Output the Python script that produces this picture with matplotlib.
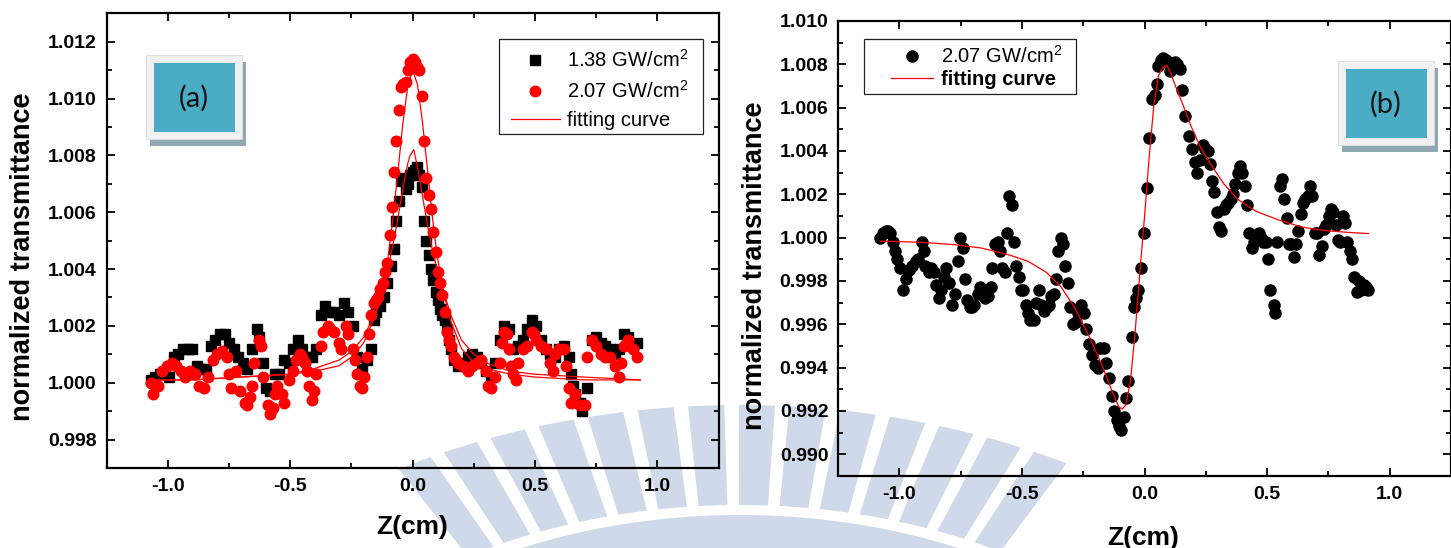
"""Z-scan transmittance, two panels: (a) closed peak for two intensities, (b) peak-valley trace."""
import matplotlib
matplotlib.use('Agg')
import matplotlib.pyplot as plt
from matplotlib.patches import Rectangle, Wedge
from matplotlib.ticker import MultipleLocator, FormatStrFormatter

plt.rcParams['font.family'] = ['Liberation Sans', 'DejaVu Sans']
plt.rcParams['mathtext.fontset'] = 'custom'
plt.rcParams['mathtext.rm'] = 'Liberation Sans'
plt.rcParams['mathtext.default'] = 'regular'

# ---- panel (a): 1.38 GW/cm2 (squares) ----
za_sq = [-1.068, -1.050, -1.031, -1.012, -0.993, -0.975, -0.956, -0.937, -0.918, -0.900,
         -0.881, -0.862, -0.843, -0.825, -0.806, -0.787, -0.768, -0.750, -0.731, -0.712,
         -0.694, -0.675, -0.656, -0.637, -0.628, -0.609, -0.600, -0.581, -0.562, -0.544,
         -0.525, -0.506, -0.487, -0.469, -0.450, -0.431, -0.412, -0.394, -0.375, -0.356,
         -0.337, -0.319, -0.300, -0.281, -0.262, -0.244, -0.225, -0.206, -0.187, -0.169,
         -0.159, -0.150, -0.131, -0.118, -0.103, -0.090, -0.076, -0.069, -0.056, -0.049,
         -0.037, -0.028, -0.019, -0.009, 0.000, 0.009, 0.019, 0.028, 0.037, 0.047,
         0.056, 0.066, 0.075, 0.084, 0.094, 0.103, 0.112, 0.122, 0.131, 0.141,
         0.150, 0.159, 0.169, 0.187, 0.206, 0.225, 0.244, 0.262, 0.281, 0.300,
         0.319, 0.337, 0.356, 0.375, 0.394, 0.412, 0.431, 0.450, 0.469, 0.487,
         0.506, 0.525, 0.544, 0.562, 0.581, 0.600, 0.619, 0.637, 0.647, 0.656,
         0.665, 0.684, 0.694, 0.712, 0.731, 0.750, 0.768, 0.787, 0.806, 0.825,
         0.843, 0.862, 0.881, 0.900, 0.918]
ta_sq = [1.0001, 1.0002, 1.0003, 1.0003, 1.0002, 1.0009, 1.0010, 1.0012, 1.0012, 1.0012,
         1.0006, 1.0005, 1.0005, 1.0013, 1.0015, 1.0017, 1.0017, 1.0014, 1.0012, 1.0009,
         1.0007, 1.0005, 1.0012, 1.0019, 1.0016, 1.0007, 0.9998, 0.9997, 1.0003, 1.0003,
         1.0008, 1.0007, 1.0012, 1.0015, 1.0012, 1.0009, 1.0009, 1.0012, 1.0024, 1.0027,
         1.0025, 1.0025, 1.0024, 1.0028, 1.0025, 1.0020, 1.0009, 1.0005, 1.0008, 1.0012,
         1.0022, 1.0025, 1.0027, 1.0030, 1.0035, 1.0041, 1.0047, 1.0057, 1.0064, 1.0071,
         1.0072, 1.0068, 1.0070, 1.0073, 1.0074, 1.0075, 1.0076, 1.0073, 1.0069, 1.0057,
         1.0050, 1.0045, 1.0040, 1.0036, 1.0032, 1.0029, 1.0026, 1.0024, 1.0022, 1.0019,
         1.0015, 1.0012, 1.0008, 1.0006, 1.0007, 1.0009, 1.0010, 1.0009, 1.0007, 1.0004,
         1.0002, 1.0007, 1.0015, 1.0020, 1.0019, 1.0012, 1.0013, 1.0015, 1.0019, 1.0022,
         1.0020, 1.0015, 1.0012, 1.0010, 1.0009, 1.0012, 1.0013, 1.0009, 1.0003, 0.9999,
         0.9996, 0.9993, 0.9990, 0.9998, 1.0015, 1.0016, 1.0014, 1.0013, 1.0012, 1.0010,
         1.0012, 1.0017, 1.0016, 1.0013, 1.0014]

# ---- panel (a): 2.07 GW/cm2 (circles) ----
za_ci = [-1.068, -1.059, -1.040, -1.022, -1.003, -0.984, -0.965, -0.947, -0.928, -0.909,
         -0.890, -0.872, -0.853, -0.834, -0.815, -0.797, -0.778, -0.759, -0.750, -0.740,
         -0.722, -0.703, -0.684, -0.675, -0.665, -0.656, -0.647, -0.628, -0.619, -0.609,
         -0.590, -0.581, -0.572, -0.562, -0.553, -0.534, -0.525, -0.506, -0.487, -0.478,
         -0.459, -0.450, -0.440, -0.431, -0.422, -0.412, -0.403, -0.394, -0.375, -0.366,
         -0.347, -0.337, -0.319, -0.300, -0.291, -0.272, -0.262, -0.244, -0.234, -0.225,
         -0.216, -0.206, -0.197, -0.187, -0.178, -0.169, -0.159, -0.150, -0.141, -0.131,
         -0.122, -0.112, -0.103, -0.094, -0.084, -0.075, -0.066, -0.056, -0.047, -0.037,
         -0.028, -0.019, -0.009, 0.000, 0.009, 0.019, 0.028, 0.037, 0.047, 0.056,
         0.066, 0.075, 0.084, 0.094, 0.103, 0.112, 0.122, 0.131, 0.141, 0.150,
         0.159, 0.169, 0.178, 0.187, 0.206, 0.225, 0.244, 0.262, 0.281, 0.300,
         0.309, 0.319, 0.337, 0.356, 0.366, 0.375, 0.384, 0.394, 0.403, 0.412,
         0.422, 0.431, 0.450, 0.469, 0.487, 0.497, 0.506, 0.525, 0.544, 0.562,
         0.572, 0.581, 0.600, 0.619, 0.628, 0.637, 0.647, 0.665, 0.684, 0.703,
         0.712, 0.731, 0.750, 0.768, 0.787, 0.806, 0.825, 0.843, 0.853, 0.862,
         0.881, 0.900, 0.918]
ta_ci = [1.0000, 0.9996, 0.9999, 1.0004, 1.0006, 1.0007, 1.0006, 1.0004, 1.0002, 1.0004,
         1.0003, 0.9999, 0.9998, 1.0002, 1.0008, 1.0010, 1.0011, 1.0009, 1.0003, 0.9998,
         1.0004, 0.9997, 0.9993, 0.9992, 0.9995, 0.9999, 1.0007, 1.0015, 1.0013, 1.0002,
         0.9992, 0.9989, 0.9991, 0.9996, 0.9999, 0.9996, 0.9993, 1.0001, 1.0004, 1.0008,
         1.0010, 1.0009, 1.0007, 1.0004, 0.9999, 0.9994, 0.9997, 1.0003, 1.0013, 1.0018,
         1.0020, 1.0019, 1.0018, 1.0014, 1.0012, 1.0020, 1.0017, 1.0012, 1.0008, 1.0003,
         0.9999, 0.9998, 1.0002, 1.0009, 1.0017, 1.0024, 1.0028, 1.0029, 1.0030, 1.0033,
         1.0035, 1.0039, 1.0042, 1.0052, 1.0062, 1.0074, 1.0085, 1.0096, 1.0104, 1.0105,
         1.0106, 1.0110, 1.0113, 1.0114, 1.0113, 1.0111, 1.0110, 1.0101, 1.0085, 1.0072,
         1.0066, 1.0061, 1.0053, 1.0046, 1.0039, 1.0035, 1.0031, 1.0025, 1.0018, 1.0015,
         1.0013, 1.0009, 1.0008, 1.0007, 1.0006, 1.0004, 1.0006, 1.0007, 1.0008, 1.0004,
         0.9999, 0.9998, 1.0002, 1.0007, 1.0014, 1.0018, 1.0017, 1.0012, 1.0006, 1.0003,
         1.0001, 1.0007, 1.0012, 1.0013, 1.0018, 1.0017, 1.0015, 1.0013, 1.0012, 1.0007,
         1.0004, 1.0010, 1.0012, 1.0012, 1.0006, 0.9998, 0.9993, 0.9996, 0.9992, 0.9992,
         1.0009, 1.0015, 1.0013, 1.0010, 1.0009, 1.0009, 1.0006, 1.0002, 1.0007, 1.0013,
         1.0015, 1.0012, 1.0009]

# ---- panel (a): fitting curves ----
fit_a_hi_z = [-1.07, -0.9, -0.7, -0.5, -0.4, -0.3, -0.25, -0.2, -0.15, -0.12, -0.1, -0.08,
              -0.06, -0.04, -0.02, 0.0, 0.02, 0.04, 0.06, 0.08, 0.1, 0.12, 0.15, 0.2, 0.25,
              0.3, 0.4, 0.5, 0.7, 0.93]
fit_a_hi_t = [1.0001, 1.0001, 1.0002, 1.0003, 1.0004, 1.0006, 1.0009, 1.0014, 1.0024, 1.0034,
              1.0044, 1.0058, 1.0074, 1.0091, 1.0104, 1.0110, 1.0105, 1.0092, 1.0076, 1.0059,
              1.0045, 1.0035, 1.0023, 1.0012, 1.0007, 1.0005, 1.0003, 1.0002, 1.0001, 1.0001]
fit_a_lo_z = [-1.07, -0.9, -0.7, -0.5, -0.4, -0.3, -0.25, -0.2, -0.15, -0.1, -0.07, -0.04,
              -0.02, -0.01, 0.005, 0.02, 0.04, 0.06, 0.08, 0.1, 0.13, 0.16, 0.2, 0.25, 0.3,
              0.4, 0.5, 0.7, 0.93]
fit_a_lo_t = [1.0001, 1.0001, 1.0002, 1.0003, 1.0005, 1.0008, 1.0011, 1.0016, 1.0025, 1.0040,
              1.0053, 1.0068, 1.0077, 1.0080, 1.0082, 1.0076, 1.0066, 1.0056, 1.0047, 1.0040,
              1.0031, 1.0023, 1.0015, 1.0010, 1.0007, 1.0004, 1.0003, 1.0002, 1.0001]

# ---- panel (b): 2.07 GW/cm2 ----
zb = [-1.078, -1.065, -1.055, -1.046, -1.036, -1.027, -1.017, -1.008, -0.998, -0.985,
      -0.973, -0.960, -0.947, -0.932, -0.922, -0.909, -0.901, -0.894, -0.880, -0.871,
      -0.859, -0.852, -0.840, -0.829, -0.817, -0.808, -0.798, -0.785, -0.774, -0.760,
      -0.751, -0.741, -0.732, -0.722, -0.713, -0.703, -0.694, -0.681, -0.669, -0.662,
      -0.650, -0.637, -0.627, -0.622, -0.608, -0.599, -0.589, -0.580, -0.570, -0.561,
      -0.551, -0.540, -0.532, -0.523, -0.513, -0.504, -0.494, -0.485, -0.475, -0.466,
      -0.452, -0.441, -0.432, -0.422, -0.411, -0.399, -0.390, -0.380, -0.371, -0.361,
      -0.352, -0.342, -0.333, -0.323, -0.314, -0.304, -0.293, -0.281, -0.270, -0.257,
      -0.247, -0.238, -0.228, -0.215, -0.200, -0.190, -0.181, -0.167, -0.156, -0.143,
      -0.133, -0.124, -0.114, -0.105, -0.095, -0.084, -0.076, -0.067, -0.053, -0.044,
      -0.034, -0.025, -0.015, -0.004, 0.010, 0.019, 0.030, 0.042, 0.049, 0.057,
      0.067, 0.076, 0.086, 0.095, 0.105, 0.114, 0.124, 0.133, 0.143, 0.152,
      0.165, 0.181, 0.194, 0.205, 0.213, 0.228, 0.238, 0.247, 0.257, 0.266,
      0.276, 0.285, 0.295, 0.304, 0.314, 0.323, 0.333, 0.342, 0.352, 0.361,
      0.371, 0.380, 0.390, 0.399, 0.409, 0.418, 0.428, 0.437, 0.447, 0.456,
      0.466, 0.475, 0.485, 0.494, 0.504, 0.513, 0.527, 0.532, 0.542, 0.551,
      0.561, 0.570, 0.580, 0.589, 0.599, 0.608, 0.618, 0.627, 0.637, 0.646,
      0.656, 0.665, 0.675, 0.684, 0.694, 0.703, 0.713, 0.722, 0.732, 0.741,
      0.751, 0.760, 0.770, 0.779, 0.789, 0.798, 0.808, 0.817, 0.827, 0.837,
      0.846, 0.856, 0.865, 0.875, 0.884, 0.894, 0.903, 0.913]
tb = [1.0000, 1.0002, 1.0003, 1.0003, 1.0002, 0.9998, 0.9994, 0.9990, 0.9986, 0.9976,
      0.9981, 0.9985, 0.9987, 0.9989, 0.9990, 0.9998, 0.9994, 0.9987, 0.9984, 0.9986,
      0.9984, 0.9978, 0.9972, 0.9976, 0.9982, 0.9986, 0.9979, 0.9969, 0.9974, 0.9989,
      1.0000, 0.9995, 0.9981, 0.9971, 0.9968, 0.9968, 0.9969, 0.9974, 0.9977, 0.9976,
      0.9972, 0.9973, 0.9977, 0.9986, 0.9997, 0.9998, 0.9994, 0.9986, 0.9984, 1.0002,
      1.0019, 1.0015, 0.9998, 0.9987, 0.9982, 0.9976, 0.9976, 0.9969, 0.9965, 0.9962,
      0.9962, 0.9970, 0.9976, 0.9969, 0.9966, 0.9968, 0.9969, 0.9973, 0.9974, 0.9981,
      0.9994, 1.0000, 0.9997, 0.9987, 0.9979, 0.9968, 0.9960, 0.9961, 0.9965, 0.9969,
      0.9965, 0.9958, 0.9951, 0.9946, 0.9941, 0.9940, 0.9949, 0.9949, 0.9942, 0.9935,
      0.9927, 0.9920, 0.9916, 0.9913, 0.9911, 0.9917, 0.9926, 0.9934, 0.9954, 0.9968,
      0.9972, 0.9976, 0.9986, 1.0002, 1.0023, 1.0046, 1.0064, 1.0066, 1.0071, 1.0079,
      1.0082, 1.0083, 1.0082, 1.0081, 1.0077, 1.0079, 1.0081, 1.0080, 1.0078, 1.0068,
      1.0056, 1.0047, 1.0041, 1.0035, 1.0030, 1.0036, 1.0043, 1.0041, 1.0040, 1.0034,
      1.0026, 1.0021, 1.0012, 1.0005, 1.0003, 1.0013, 1.0015, 1.0016, 1.0018, 1.0020,
      1.0025, 1.0030, 1.0033, 1.0030, 1.0024, 1.0015, 1.0002, 0.9995, 0.9998, 1.0000,
      1.0002, 1.0000, 0.9998, 0.9998, 0.9990, 0.9976, 0.9969, 0.9965, 0.9998, 1.0024,
      1.0027, 1.0018, 1.0009, 0.9997, 0.9997, 0.9991, 0.9997, 1.0003, 1.0011, 1.0016,
      1.0018, 1.0019, 1.0024, 1.0019, 1.0002, 1.0002, 0.9992, 0.9996, 1.0004, 1.0006,
      1.0010, 1.0013, 1.0012, 1.0006, 0.9999, 0.9998, 1.0010, 1.0007, 0.9998, 0.9994,
      0.9990, 0.9982, 0.9975, 0.9980, 0.9976, 0.9978, 0.9977, 0.9976]

fit_b_z = [-1.078, -0.913, -0.779, -0.665, -0.551, -0.475, -0.399, -0.342, -0.285, -0.228,
           -0.171, -0.133, -0.105, -0.091, -0.076, -0.057, -0.038, -0.019, 0.000, 0.019,
           0.038, 0.057, 0.076, 0.091, 0.105, 0.124, 0.152, 0.190, 0.228, 0.266,
           0.323, 0.380, 0.456, 0.551, 0.646, 0.741, 0.837, 0.913]
fit_b_t = [0.99984, 0.99979, 0.99968, 0.99952, 0.99920, 0.99891, 0.99839, 0.99775, 0.99678, 0.99550,
           0.99405, 0.99293, 0.99220, 0.99209, 0.99228, 0.99341, 0.99566, 0.99839, 1.00096, 1.00370,
           1.00611, 1.00748, 1.00788, 1.00796, 1.00764, 1.00707, 1.00627, 1.00514, 1.00418, 1.00346,
           1.00249, 1.00177, 1.00121, 1.00080, 1.00048, 1.00032, 1.00024, 1.00019]

W, H = 1451, 548
fig = plt.figure(figsize=(W / 100, H / 100), dpi=100, facecolor='white')

# watermark layer: pixel units, x squeezed so the emblem comes out wider than tall
SX = 1.4
wm = fig.add_axes([0, 0, 1, 1], zorder=-6)
wm.set_xlim(0, W / SX); wm.set_ylim(H, 0); wm.axis('off')
WM = '#d0d9ea'
cx, cy = 740 / SX, 900
a = 242.0
while a < 298.5:
    wm.add_patch(Wedge((cx, cy), 495, a - 1.5, a + 1.5, width=100, facecolor=WM, edgecolor='none'))
    a += 4.2
wm.add_patch(Wedge((cx, cy), 385, 236, 304, width=90, facecolor=WM, edgecolor='none'))

# panel tags layer in plain pixel units (y down)
bg = fig.add_axes([0, 0, 1, 1], zorder=-5)
bg.set_xlim(0, W); bg.set_ylim(H, 0); bg.axis('off')


def tag(x0, y0, x1, y1, pad, txt):
    # shadow, light frame, teal face
    bg.add_patch(Rectangle((x0 + 4, y0 + 7), x1 - x0, y1 - y0, facecolor='#8fa8b2', edgecolor='none'))
    bg.add_patch(Rectangle((x0, y0), x1 - x0, y1 - y0, facecolor='#f1f1f1', edgecolor='#dcdcdc', lw=0.6))
    bg.add_patch(Rectangle((x0 + pad, y0 + pad), x1 - x0 - 2 * pad, y1 - y0 - 2 * pad,
                           facecolor='#4bacc6', edgecolor='none'))
    bg.text((x0 + x1) / 2, (y0 + y1) / 2 + 1, txt, family='Lato', fontsize=21,
            ha='center', va='center', color='#111111')


tag(146, 55, 242, 139, 7.5, '(a)')
tag(1338, 61, 1434, 145, 7.5, '(b)')


def style(ax, ymaj, fmt):
    ax.set_facecolor('none')
    ax.xaxis.set_major_locator(MultipleLocator(0.5))
    ax.xaxis.set_minor_locator(MultipleLocator(0.25))
    ax.yaxis.set_major_locator(MultipleLocator(ymaj))
    ax.yaxis.set_minor_locator(MultipleLocator(ymaj / 2))
    ax.xaxis.set_major_formatter(FormatStrFormatter('%.1f'))
    ax.yaxis.set_major_formatter(FormatStrFormatter(fmt))
    ax.tick_params(which='both', direction='in', top=True, right=True, width=1.3)
    ax.tick_params(which='major', length=5.5, labelsize=14, pad=7)
    ax.tick_params(which='minor', length=3.5)
    for s in ax.spines.values():
        s.set_linewidth(1.6)
    for lab in ax.get_xticklabels() + ax.get_yticklabels():
        lab.set_fontweight('bold')
    ax.set_xlim(-1.25, 1.25)


def legend_box(ax, x0, y0, x1, y1):
    ax.add_patch(Rectangle((x0, y0), x1 - x0, y1 - y0, transform=ax.transAxes,
                           facecolor='white', edgecolor='#222222', lw=0.9, zorder=4))


# ---- panel (a) ----
ax1 = fig.add_axes([106.5 / W, (H - 468) / H, (718.6 - 106.5) / W, (468 - 13.3) / H])
h1, = ax1.plot(za_sq, ta_sq, 's', color='black', ms=6.6, mec='black', linestyle='none')
h2, = ax1.plot(za_ci, ta_ci, 'o', color='red', ms=7.6, mec='red', linestyle='none')
h3, = ax1.plot(fit_a_hi_z, fit_a_hi_t, '-', color='red', lw=0.9)
ax1.plot(fit_a_lo_z, fit_a_lo_t, '-', color='red', lw=0.9)
ax1.set_ylim(0.997, 1.013)
style(ax1, 0.002, '%.3f')
legend_box(ax1, 0.6406, 0.7345, 0.9737, 0.9424)
leg = ax1.legend([h1, h2, h3], ['1.38 GW/cm$^2$', '2.07 GW/cm$^2$', 'fitting curve'],
                 loc='upper left', bbox_to_anchor=(0.661, 0.921), borderaxespad=0, borderpad=0,
                 fontsize=14.5, handlelength=2.42, handletextpad=0.36, labelspacing=0.45,
                 frameon=False, numpoints=1)
leg.set_zorder(5)
fig.text(412 / W, 1 - 527 / H, 'Z(cm)', fontsize=19, fontweight='bold', ha='center', va='center')
fig.text(23.5 / W, 1 - 257 / H, 'normalized transmittance', fontsize=19.5, fontweight='bold',
         rotation=90, ha='center', va='center')

# ---- panel (b) ----
ax2 = fig.add_axes([838 / W, (H - 476) / H, (W - 838) / W, (476 - 21) / H])
g1, = ax2.plot(zb, tb, 'o', color='black', ms=8, mec='black', linestyle='none')
g2, = ax2.plot(fit_b_z, fit_b_t, '-', color='red', lw=0.9)
ax2.set_ylim(0.989, 1.010)
style(ax2, 0.002, '%.3f')
legend_box(ax2, 0.0432, 0.8402, 0.3878, 0.9604)
leg2 = ax2.legend([g1, g2], ['2.07 GW/cm$^2$', 'fitting curve'],
                  loc='upper left', bbox_to_anchor=(0.0865, 0.948), borderaxespad=0, borderpad=0,
                  fontsize=14.5, handlelength=2.1, handletextpad=0.36, labelspacing=0.15,
                  frameon=False, numpoints=1)
leg2.set_zorder(5)
leg2.get_texts()[1].set_fontweight('bold')
fig.text(1143 / W, 1 - 538 / H, 'Z(cm)', fontsize=19, fontweight='bold', ha='center', va='center')
fig.text(755 / W, 1 - 266 / H, 'normalized transmittance', fontsize=19.5, fontweight='bold',
         rotation=90, ha='center', va='center')

fig.savefig('out.png', dpi=100, facecolor='white')
